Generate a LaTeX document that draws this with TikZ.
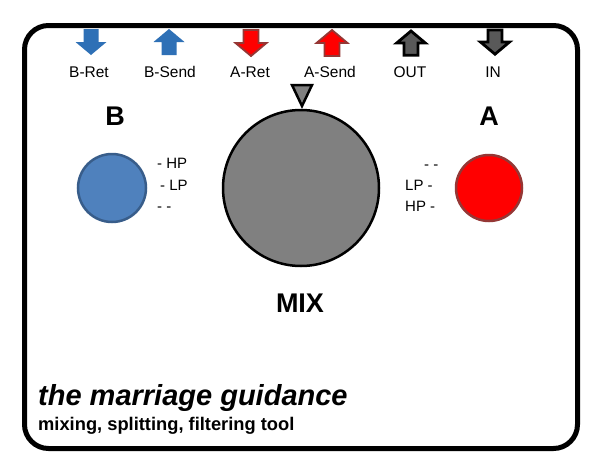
\documentclass[tikz,border=0pt]{standalone}
\usepackage{fontspec}
\setmainfont{Liberation Sans}
\begin{document}
\begin{tikzpicture}[x=1pt,y=-1pt,
  lbl/.style={font=\fontsize{15.5}{17}\selectfont, anchor=base, inner sep=0pt},
  big/.style={font=\fontsize{27}{30}\selectfont\bfseries, anchor=base, inner sep=0pt},
  side/.style={font=\fontsize{15}{17}\selectfont, anchor=base west, inner sep=0pt},
  blueArr/.style={fill={rgb,255:red,46;green,112;blue,182}, draw=none},
  redArr/.style={fill=red, draw={rgb,255:red,149;green,55;blue,53}, line width=1.8pt},
  greyArr/.style={fill=black!65, draw=black, line width=2.8pt},
  pics/downarr/.style={code={\path[pic actions] (-7.5,0) -- (7.5,0) -- (7.5,13) -- (15.5,13) -- (0,26) -- (-15.5,13) -- (-7.5,13) -- cycle;}},
  pics/uparr/.style={code={\path[pic actions] (0,0) -- (15.5,13) -- (7.5,13) -- (7.5,26) -- (-7.5,26) -- (-7.5,13) -- (-15.5,13) -- cycle;}}
]
\useasboundingbox (0,0) rectangle (597,461);
\fill[white] (0,0) rectangle (597,461);
\draw[line width=5pt, rounded corners=24pt] (24.5,25.5) rectangle (577.5,448.5);

% top arrows
\pic[blueArr] at (91,29) {downarr};
\pic[blueArr] at (169,29) {uparr};
\pic[redArr] at (251,30) {downarr};
\pic[redArr] at (332,30) {uparr};
\pic[greyArr, scale=0.93] at (411,31) {uparr};
\pic[greyArr, scale=0.93] at (495,30) {downarr};

\node[lbl] (bret) at (89,77) {B-Ret};
\node[lbl] (bsend) at (170,77) {B-Send};
\node[lbl] (aret) at (250,77) {A-Ret};
\node[lbl] (asend) at (330,77) {A-Send};
\node[lbl] (out) at (410,77) {OUT};
\node[lbl] (in) at (493,77) {IN};

% pointer triangle
\draw[fill=black!50, line width=2.5pt, line join=miter] (292,85) -- (312,85) -- (302,106) -- cycle;

% knob
\node[circle, draw=black, line width=2.5pt, fill=black!50, minimum size=156pt] (mix) at (301,188) {};
\node[big] (mixlbl) at (300,312) {MIX};

% B channel
\node[big] (blbl) at (115,125) {B};
\node[circle, draw={rgb,255:red,56;green,93;blue,138}, line width=2.5pt, fill={rgb,255:red,79;green,129;blue,189}, minimum size=68pt] (bcirc) at (112,188) {};
\node[side] (bhp) at (157,168) {- HP};
\node[side] (blp) at (160,190) {- LP};
\node[side] (bdd) at (157,211) {- -};

% A channel
\node[big] (albl) at (489,125) {A};
\node[circle, draw={rgb,255:red,149;green,55;blue,53}, line width=2.5pt, fill=red, minimum size=66pt] (acirc) at (489,188) {};
\node[side] (add) at (424,169) {- -};
\node[side] (alp) at (405,190) {LP -};
\node[side] (ahp) at (405,211) {HP -};

% title
\node[anchor=base west, inner sep=0pt, font=\fontsize{29}{32}\selectfont\bfseries\itshape] (title) at (38,405) {the marriage guidance};
\node[anchor=base west, inner sep=0pt, font=\fontsize{18.3}{20}\selectfont\bfseries] (sub) at (38,430) {mixing, splitting, filtering tool};
\end{tikzpicture}
\end{document}
